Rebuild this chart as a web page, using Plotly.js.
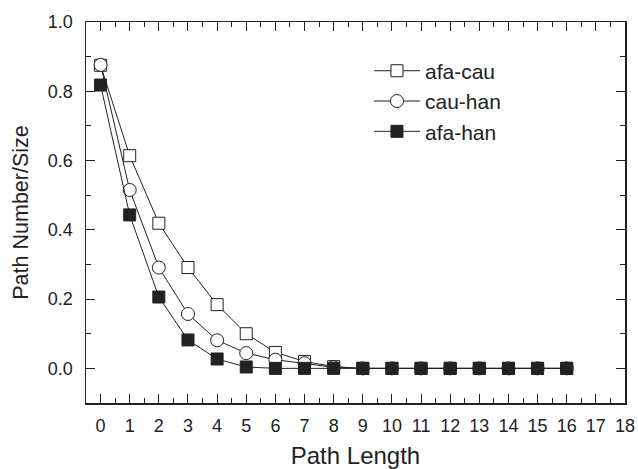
<!DOCTYPE html>
<html>
<head>
<meta charset="utf-8">
<script src="https://cdn.plot.ly/plotly-3.0.1.min.js"></script>
<style>html,body{margin:0;padding:0;background:#fff;}#chart{width:638px;height:469px;}</style>
</head>
<body>
<div id="chart"></div>
<script>
const pathLength = [0,1,2,3,4,5,6,7,8,9,10,11,12,13,14,15,16];
const afaCau = [0.875,0.614,0.419,0.291,0.184,0.100,0.046,0.020,0.005,0,0,0,0,0,0,0,0];
const cauHan = [0.876,0.515,0.291,0.157,0.081,0.044,0.025,0.015,0.003,0,0,0,0,0,0,0,0];
const afaHan = [0.818,0.443,0.206,0.082,0.027,0.004,0.000,0.000,0.000,0,0,0,0,0,0,0,0];
const seriesNames = ['afa-cau','cau-han','afa-han'];
const xTicks = [0,1,2,3,4,5,6,7,8,9,10,11,12,13,14,15,16,17,18];
const yTicks = [0,0.2,0.4,0.6,0.8,1.0];
const yTickText = ['0.0','0.2','0.4','0.6','0.8','1.0'];

const ink = '#222222';
function tr(y, name, symbol, fill, size){
  return {x: pathLength, y: y, name: name, type:'scatter', mode:'lines+markers',
    line:{color:ink, width:1},
    marker:{symbol:symbol, size:size, color:fill, line:{color:ink, width:1}}};
}
const data = [
  tr(afaCau, seriesNames[0], 'square', '#ffffff', 12),
  tr(cauHan, seriesNames[1], 'circle', '#ffffff', 13),
  tr(afaHan, seriesNames[2], 'square', ink, 12)
];
const font = {family:'Liberation Sans, Arial, sans-serif', color:ink};
const layout = {
  width:638, height:469,
  margin:{l:86, r:13, t:22, b:66},
  paper_bgcolor:'#fff', plot_bgcolor:'#fff',
  font: Object.assign({size:18}, font),
  showlegend:true,
  legend:{x:0.525, y:0.925, xanchor:'left', yanchor:'top', bgcolor:'rgba(0,0,0,0)',
    font: Object.assign({size:21}, font), itemwidth:46},
  xaxis:{range:[-0.5,18], tickvals:xTicks, ticktext:xTicks.map(String),
    ticks:'inside', ticklen:9, tickwidth:1, tickcolor:ink,
    minor:{dtick:0.5, tick0:0, ticks:'inside', ticklen:5, tickcolor:ink},
    showline:true, linecolor:ink, linewidth:1.5, mirror:'ticks', showgrid:false, zeroline:false,
    tickfont:Object.assign({size:18}, font), ticklabelstandoff:6,
    title:{text:'Path Length', font:Object.assign({size:24}, font), standoff:13}},
  yaxis:{range:[-0.1,1.0], tickvals:yTicks, ticktext:yTickText,
    ticks:'inside', ticklen:9, tickwidth:1, tickcolor:ink,
    minor:{dtick:0.1, tick0:0, ticks:'inside', ticklen:5, tickcolor:ink},
    showline:true, linecolor:ink, linewidth:1.5, mirror:'ticks', showgrid:false, zeroline:false,
    tickfont:Object.assign({size:18}, font), ticklabelstandoff:8,
    title:{text:'Path Number/Size', font:Object.assign({size:21.5}, font), standoff:13}}
};
Plotly.newPlot('chart', data, layout, {displayModeBar:false, staticPlot:true});
</script>
</body>
</html>
